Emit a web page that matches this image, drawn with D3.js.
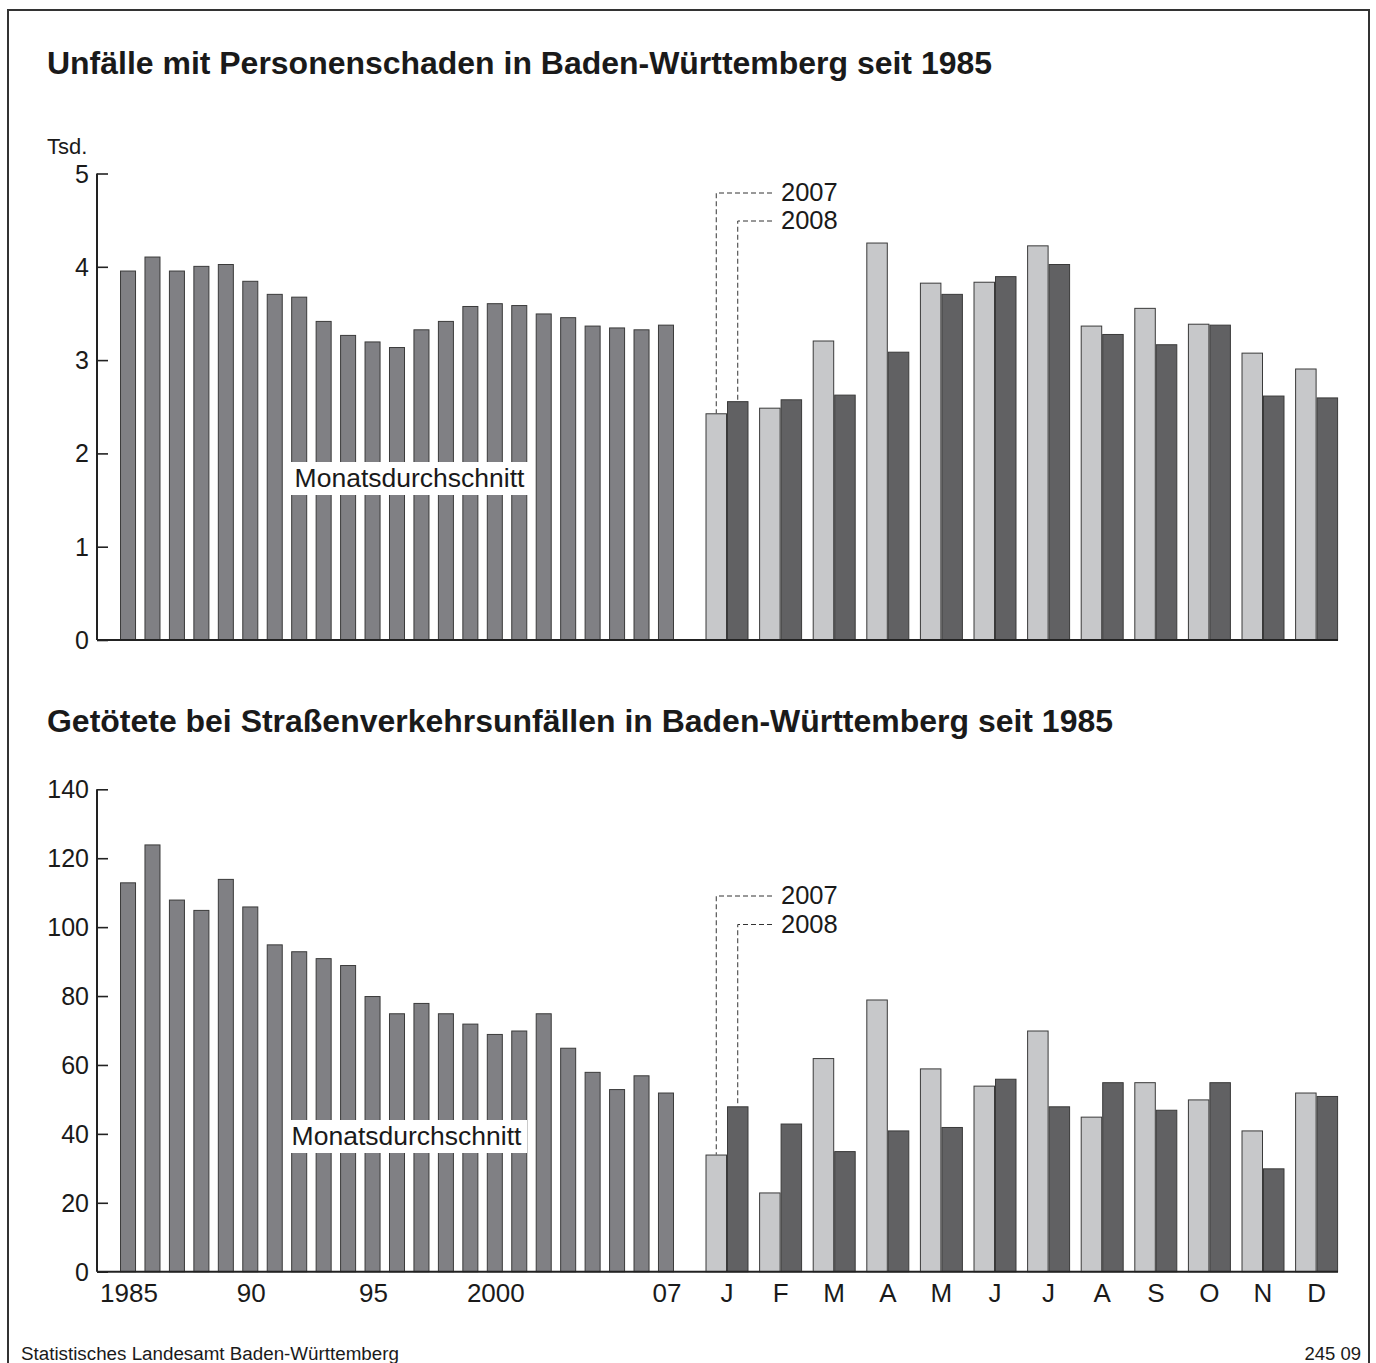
<!DOCTYPE html>
<html>
<head>
<meta charset="utf-8">
<script src="https://cdn.jsdelivr.net/npm/d3@7/dist/d3.min.js"></script>
<style>
  html, body { margin: 0; padding: 0; background: #fff; }
  svg { display: block; }
  text { font-family: "Liberation Sans", Arial, Helvetica, sans-serif; fill: #1a1a1a; }
</style>
</head>
<body>
<svg id="chart" width="1376" height="1363"></svg>
<script>
// ---------- DATA ----------
const years = ["1985","1986","1987","1988","1989","1990","1991","1992","1993","1994","1995","1996","1997","1998","1999","2000","2001","2002","2003","2004","2005","2006","2007"];
const yearTickLabels = {"1985":"1985","1990":"90","1995":"95","2000":"2000","2007":"07"};
const months = ["J","F","M","A","M","J","J","A","S","O","N","D"];
const seriesYears = ["2007","2008"];

// Unfälle mit Personenschaden (Tsd., Monatsdurchschnitt)
const accidentsAvg = [3.96,4.11,3.96,4.01,4.03,3.85,3.71,3.68,3.42,3.27,3.20,3.14,3.33,3.42,3.58,3.61,3.59,3.50,3.46,3.37,3.35,3.33,3.38];
const accidents2007 = [2.43,2.49,3.21,4.26,3.83,3.84,4.23,3.37,3.56,3.39,3.08,2.91];
const accidents2008 = [2.56,2.58,2.63,3.09,3.71,3.90,4.03,3.28,3.17,3.38,2.62,2.60];
const accidentsTicks = [0,1,2,3,4,5];

// Getötete
const deathsAvg = [113,124,108,105,114,106,95,93,91,89,80,75,78,75,72,69,70,75,65,58,53,57,52];
const deaths2007 = [34,23,62,79,59,54,70,45,55,50,41,52];
const deaths2008 = [48,43,35,41,42,56,48,55,47,55,30,51];
const deathsTicks = [0,20,40,60,80,100,120,140];

const title1 = "Unfälle mit Personenschaden in Baden-Württemberg seit 1985";
const title2 = "Getötete bei Straßenverkehrsunfällen in Baden-Württemberg seit 1985";
const avgLabel = "Monatsdurchschnitt";
const unitLabel = "Tsd.";
const sourceLabel = "Statistisches Landesamt Baden-Württemberg";
const codeLabel = "245 09";

// ---------- STYLE ----------
const colAvg = "#808084", col07 = "#c7c8ca", col08 = "#616163", colEdge = "#3a3a3a";
const svg = d3.select("#chart");

// frame
svg.append("path")
  .attr("d", "M8,1370 L8,10 L1369,10 L1369,1370")
  .attr("fill", "none").attr("stroke", "#333").attr("stroke-width", 2);

// shared x scales
const axisX0 = 97, axisX1 = 1338;
const xYear = d3.scaleBand().domain(years).range([115.8, 678.2]).paddingInner(0.345).paddingOuter(0.1725);
const monthIdx = months.map((m, i) => i);
const xMonth = d3.scaleBand().domain(monthIdx).range([700.2, 1343.4]).paddingInner(0.198).paddingOuter(0.099);
const xSub = d3.scaleBand().domain(seriesYears).range([0, xMonth.bandwidth()]).padding(0);

function fitTitle(sel, target) {
  sel.attr("textLength", target).attr("lengthAdjust", "spacingAndGlyphs");
}

function drawPanel(cfg) {
  const g = svg.append("g");
  const y = d3.scaleLinear().domain(cfg.domain).range([cfg.y0, cfg.y1]);

  // title
  const t = g.append("text").attr("x", 47).attr("y", cfg.titleY)
    .attr("font-size", 31).attr("font-weight", "bold").text(cfg.title);
  fitTitle(t, cfg.titleW);

  if (cfg.unit) {
    g.append("text").attr("x", 47).attr("y", 154).attr("font-size", 22).text(cfg.unit);
  }

  // yearly bars
  g.append("g").selectAll("rect").data(years).join("rect")
    .attr("x", d => xYear(d) + 0.5)
    .attr("width", xYear.bandwidth() - 1)
    .attr("y", (d, i) => y(cfg.avg[i]) + 0.5)
    .attr("height", (d, i) => y(0) - y(cfg.avg[i]) - 0.5)
    .attr("fill", colAvg).attr("stroke", colEdge).attr("stroke-width", 1);

  // monthly bars
  const mg = g.append("g").selectAll("g").data(monthIdx).join("g")
    .attr("transform", d => `translate(${xMonth(d)},0)`);
  mg.selectAll("rect").data(i => [
      {s: "2007", v: cfg.m07[i]}, {s: "2008", v: cfg.m08[i]}
    ]).join("rect")
    .attr("x", d => xSub(d.s) + 0.5)
    .attr("width", xSub.bandwidth() - 1)
    .attr("y", d => y(d.v) + 0.5)
    .attr("height", d => y(0) - y(d.v) - 0.5)
    .attr("fill", d => d.s === "2007" ? col07 : col08)
    .attr("stroke", colEdge).attr("stroke-width", 1);

  // y axis
  const yAxis = d3.axisRight(y).tickValues(cfg.ticks).tickSize(11).tickFormat("");
  const ya = g.append("g").attr("transform", `translate(${axisX0},0)`).call(yAxis);
  ya.select(".domain").remove();
  ya.selectAll(".tick line").attr("stroke", "#222").attr("stroke-width", 1.6);
  g.append("line").attr("x1", axisX0).attr("x2", axisX0)
    .attr("y1", y(cfg.domain[1])).attr("y2", y(0))
    .attr("stroke", "#222").attr("stroke-width", 2);
  g.append("g").selectAll("text").data(cfg.ticks).join("text")
    .attr("x", 89).attr("y", d => y(d)).attr("dy", "0.36em")
    .attr("text-anchor", "end").attr("font-size", 25).text(d => d);

  // x axis line
  g.append("line").attr("x1", axisX0).attr("x2", axisX1)
    .attr("y1", y(0)).attr("y2", y(0))
    .attr("stroke", "#222").attr("stroke-width", 2);

  // Monatsdurchschnitt label
  const lb = g.append("g");
  lb.append("rect").attr("x", cfg.lbl.x).attr("y", cfg.lbl.y).attr("width", cfg.lbl.w).attr("height", cfg.lbl.h).attr("fill", "#fff");
  lb.append("text").attr("x", cfg.lbl.x + cfg.lbl.w / 2).attr("y", cfg.lbl.base)
    .attr("text-anchor", "middle").attr("font-size", 26.5).text(avgLabel);

  // legend callouts
  const xl07 = xMonth(0) + xSub("2007") + xSub.bandwidth() / 2;
  const xl08 = xMonth(0) + xSub("2008") + xSub.bandwidth() / 2;
  const lg = g.append("g").attr("fill", "none").attr("stroke", "#333").attr("stroke-width", 1).attr("stroke-dasharray", "5,3");
  lg.append("path").attr("d", `M772,${cfg.leg07} H${xl07} V${y(cfg.m07[0])}`);
  lg.append("path").attr("d", `M772,${cfg.leg08} H${xl08} V${y(cfg.m08[0])}`);
  g.append("text").attr("x", 781).attr("y", cfg.leg07 + 8).attr("font-size", 25.5).text(seriesYears[0]);
  g.append("text").attr("x", 781).attr("y", cfg.leg08 + 8).attr("font-size", 25.5).text(seriesYears[1]);

  return y;
}

drawPanel({
  title: title1, titleY: 74, titleW: 945, unit: unitLabel,
  domain: [0, 5], y0: 640, y1: 173.5, ticks: accidentsTicks,
  avg: accidentsAvg, m07: accidents2007, m08: accidents2008,
  lbl: {x: 291, y: 462, w: 237, h: 33, base: 487},
  leg07: 193, leg08: 221
});

drawPanel({
  title: title2, titleY: 732, titleW: 1066, unit: null,
  domain: [0, 140], y0: 1271.7, y1: 789.3, ticks: deathsTicks,
  avg: deathsAvg, m07: deaths2007, m08: deaths2008,
  lbl: {x: 286, y: 1120, w: 241, h: 33, base: 1145},
  leg07: 896, leg08: 924.5
});

// x-axis labels (bottom panel only)
const xl = svg.append("g");
xl.selectAll("text.yr").data(years.filter(d => yearTickLabels[d])).join("text")
  .attr("class", "yr")
  .attr("x", d => xYear(d) + xYear.bandwidth() / 2 + 1)
  .attr("y", 1302).attr("text-anchor", "middle").attr("font-size", 26)
  .text(d => yearTickLabels[d]);
xl.selectAll("text.mo").data(monthIdx).join("text")
  .attr("class", "mo")
  .attr("x", d => xMonth(d) + xMonth.bandwidth() / 2)
  .attr("y", 1302).attr("text-anchor", "middle").attr("font-size", 26)
  .text(d => months[d]);

// footer
svg.append("text").attr("x", 21).attr("y", 1360).attr("font-size", 18.8).text(sourceLabel);
svg.append("text").attr("x", 1361).attr("y", 1360).attr("text-anchor", "end").attr("font-size", 18.5).text(codeLabel);
</script>
</body>
</html>
